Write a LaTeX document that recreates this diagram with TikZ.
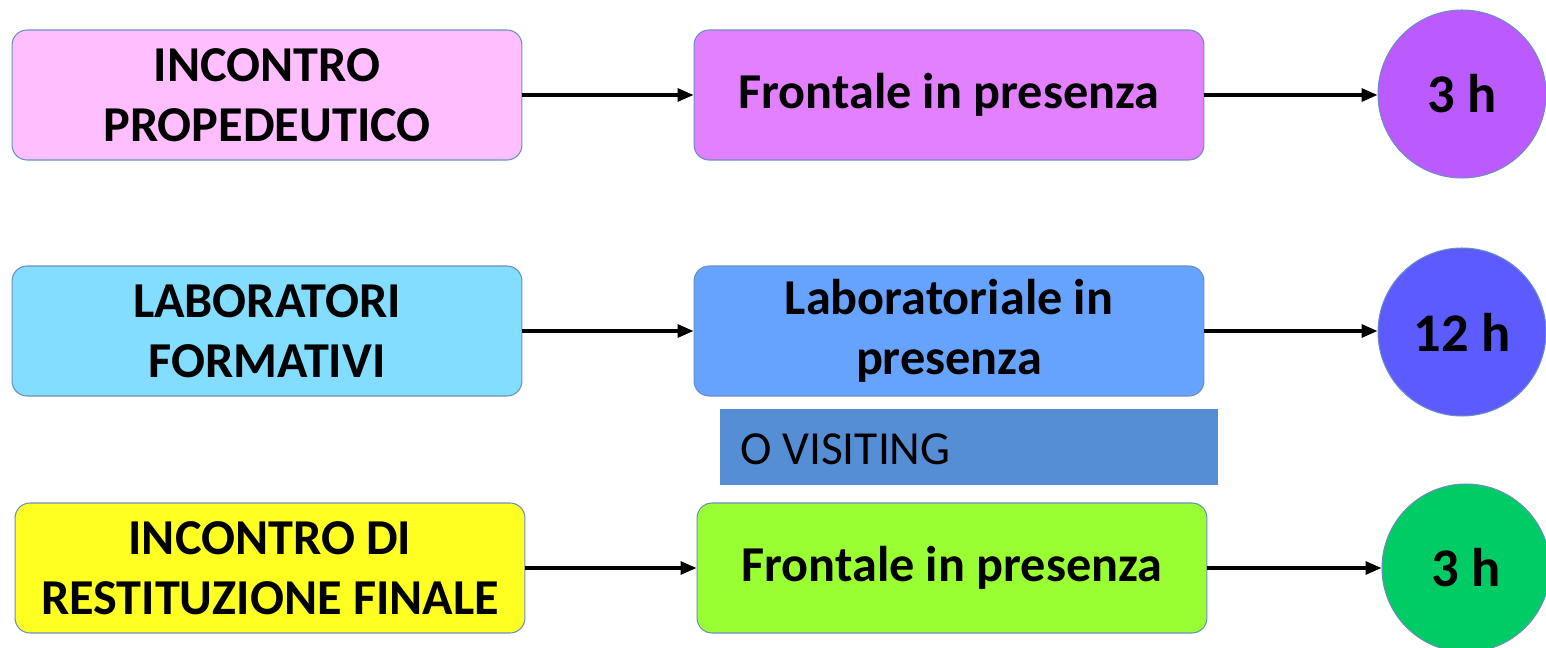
\documentclass[tikz,border=0pt]{standalone}
\usepackage{fontspec}
\setmainfont{Carlito}
\usepackage{xcolor}
\usetikzlibrary{shapes.geometric, arrows.meta, positioning, calc}

\definecolor{rosa}{HTML}{FFBFFF}
\definecolor{viola}{HTML}{E280FF}
\definecolor{violascuro}{HTML}{BA5AFF}
\definecolor{celeste}{HTML}{82DDFF}
\definecolor{azzurro}{HTML}{66A3FF}
\definecolor{blu}{HTML}{5B5BFF}
\definecolor{giallo}{HTML}{FFFF22}
\definecolor{lime}{HTML}{99FF33}
\definecolor{verde}{HTML}{00CC66}
\definecolor{visiting}{HTML}{558ED5}
\definecolor{bordo}{HTML}{6C8EBF}

\begin{document}
\begin{tikzpicture}[x=0.02cm, y=-0.02cm,
    every node/.style={font=\fontsize{28.6}{34}\selectfont\bfseries},
    box/.style={draw=bordo, line width=0.6pt, rounded corners=0.3cm, minimum width=10.2cm, minimum height=2.6cm, align=center, inner sep=0pt},
    ore/.style={circle, draw=bordo, line width=0.6pt, minimum size=3.36cm, inner sep=0pt, font=\fontsize{31}{36}\selectfont\bfseries},
    freccia/.style={-{Triangle[length=0.32cm,width=0.26cm]}, line width=1.8pt}]
        \useasboundingbox (0,0) rectangle (1546,648);
        \clip (0,0) rectangle (1546,648);

        % Incontro propedeutico
        \node[box, fill=rosa] (prop) at (267,95) {INCONTRO\\PROPEDEUTICO};
        \node[box, fill=viola] (front1) at (949,95) {Frontale in presenza};
        \node[ore, fill=violascuro] (ore1) at (1462,94) {3 h};

        % Laboratori formativi
        \node[box, fill=celeste] (lab) at (267,331) {LABORATORI\\FORMATIVI};
        \node[box, fill=azzurro] (front2) at (949,331) {Laboratoriale in\\presenza};
        \node[ore, fill=blu] (ore2) at (1462,332) {12 h};

        % O visiting
        \node[fill=visiting, minimum width=9.96cm, minimum height=1.54cm, inner sep=0pt] (visit) at (969,447) {};
        \node[anchor=west, font=\fontsize{27}{32}\selectfont] (visittxt) at (734,449) {O VISITING};

        % Restituzione finale
        \node[box, fill=giallo] (rest) at (270,568) {INCONTRO DI\\RESTITUZIONE FINALE};
        \node[box, fill=lime] (front3) at (952,568) {Frontale in presenza};
        \node[ore, fill=verde] (ore3) at (1466,568) {3 h};

        % Frecce
        \draw[freccia] (prop) -- (front1);
        \draw[freccia] (front1) -- (ore1.west |- front1);
        \draw[freccia] (lab) -- (front2);
        \draw[freccia] (front2) -- (ore2.west |- front2);
        \draw[freccia] (rest) -- (front3);
        \draw[freccia] (front3) -- (ore3.west |- front3);

    \end{tikzpicture}
\end{document}
